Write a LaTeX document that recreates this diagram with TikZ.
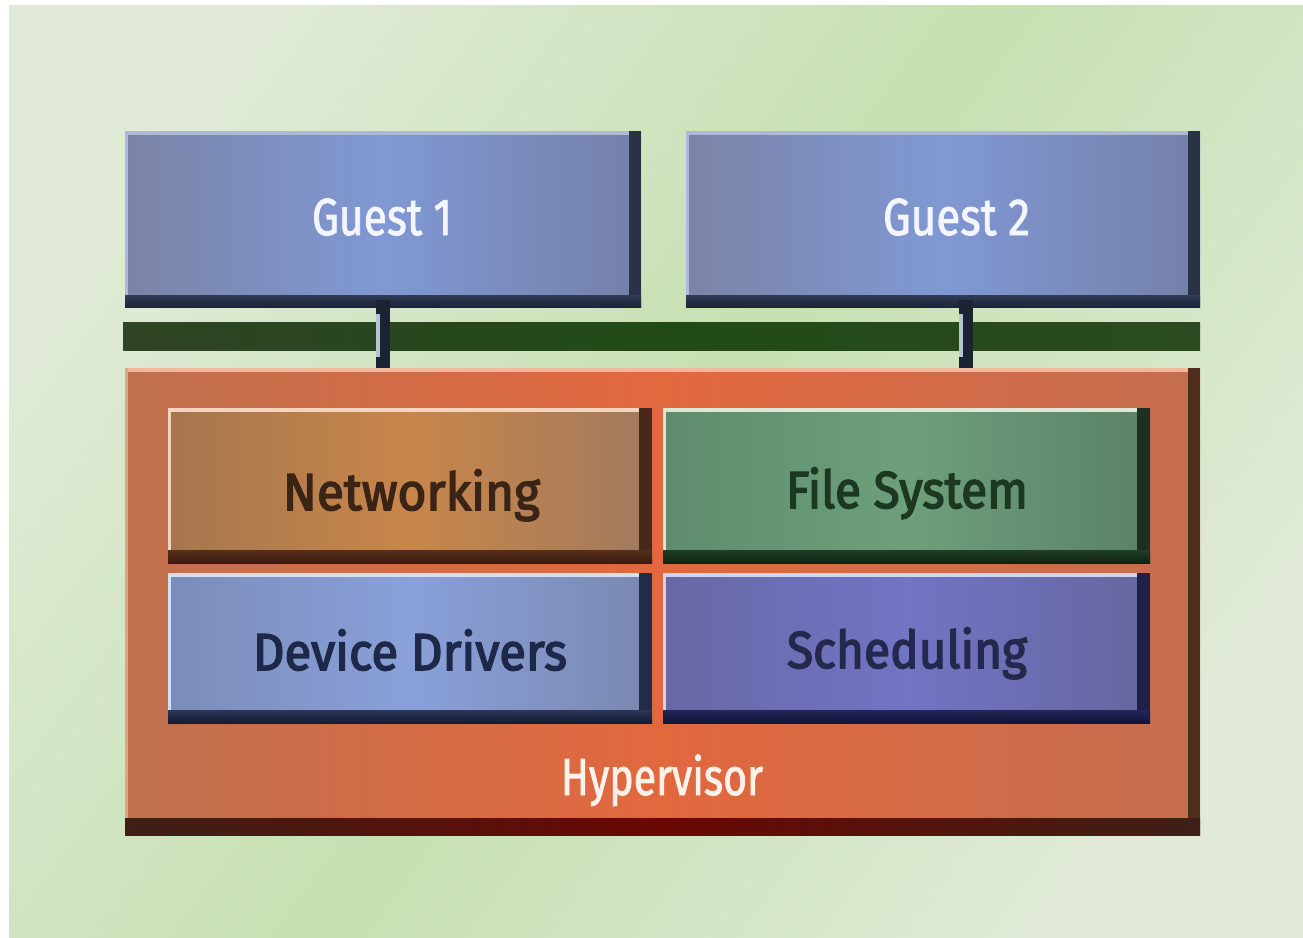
\documentclass[tikz,border=0pt]{standalone}
\usepackage{fontspec}
\setmainfont{Fira Sans}
\newfontfamily\medfont[FakeBold=3]{Fira Sans}
\newfontfamily\lightmed[FakeBold=1.8]{Fira Sans}
\usepackage{graphicx}
\definecolor{bgL}{HTML}{E0EAD6}
\definecolor{bgG}{HTML}{C6E0B2}
\definecolor{guL}{HTML}{7A84A6}
\definecolor{guM}{HTML}{8098D4}
\definecolor{guR}{HTML}{7480A8}
\definecolor{guD}{HTML}{1C2436}
\definecolor{guH}{HTML}{AEB8DC}
\definecolor{nwL}{HTML}{A5764F}
\definecolor{nwM}{HTML}{C8864A}
\definecolor{nwR}{HTML}{A07A5E}
\definecolor{nwD}{HTML}{3A1A10}
\definecolor{nwH}{HTML}{F4D4BC}
\definecolor{fsL}{HTML}{5E8C6C}
\definecolor{fsM}{HTML}{6DA07A}
\definecolor{fsR}{HTML}{5C8068}
\definecolor{fsD}{HTML}{0E2412}
\definecolor{fsH}{HTML}{DCE8D4}
\definecolor{ddL}{HTML}{7A8CB8}
\definecolor{ddM}{HTML}{8AA0DA}
\definecolor{ddR}{HTML}{7A88B0}
\definecolor{ddD}{HTML}{141C34}
\definecolor{ddH}{HTML}{D6DEF2}
\definecolor{scL}{HTML}{6868A4}
\definecolor{scM}{HTML}{7274C4}
\definecolor{scR}{HTML}{66669E}
\definecolor{scD}{HTML}{10143A}
\definecolor{scH}{HTML}{D0D4F0}
\definecolor{hyL}{HTML}{C0704F}
\definecolor{hyM}{HTML}{E2683E}
\definecolor{hyR}{HTML}{C46E50}
\definecolor{hyD}{HTML}{3C2016}
\definecolor{hyRed}{HTML}{6A0804}
\definecolor{hyH}{HTML}{F2B89C}
\definecolor{busL}{HTML}{2F4424}
\definecolor{busM}{HTML}{224A18}
\definecolor{busR}{HTML}{2B4A20}
\definecolor{connD}{HTML}{1B2333}
\definecolor{connL}{HTML}{B5C5D8}
\definecolor{txNw}{HTML}{3A2416}
\definecolor{txFs}{HTML}{1C3820}
\definecolor{txDd}{HTML}{1E2848}
\definecolor{txSc}{HTML}{24284C}
\definecolor{txW}{HTML}{F4F6FF}
\definecolor{txHy}{HTML}{FFF2EA}
\begin{document}
\begin{tikzpicture}[x=1pt,y=-1pt,
  bevel/.style n args={6}{draw=none, inner sep=0pt, outer sep=0pt,
    left color=#1, right color=#3, middle color=#2,
    path picture={
      \fill[#5] (path picture bounding box.north west) rectangle ([yshift=-4pt]path picture bounding box.north east);
      \fill[#5] (path picture bounding box.north west) rectangle ([xshift=3pt]path picture bounding box.south west);
      \fill[#4!85!#3] ([xshift=-#6]path picture bounding box.north east) rectangle (path picture bounding box.south east);
      \shade[top color=#4!80!#2, bottom color=#4] ([yshift=#6]path picture bounding box.south west) rectangle (path picture bounding box.south east);
    }},
  hyperbox/.style={draw=none, inner sep=0pt, outer sep=0pt,
    left color=hyL, right color=hyR, middle color=hyM,
    path picture={
      \fill[hyH] (path picture bounding box.north west) rectangle ([yshift=-4pt]path picture bounding box.north east);
      \fill[hyH!70!hyL] (path picture bounding box.north west) rectangle ([xshift=3pt]path picture bounding box.south west);
      \fill[hyD!85!hyL] ([xshift=-12pt]path picture bounding box.north east) rectangle (path picture bounding box.south east);
      \shade[left color=hyD, right color=hyD, middle color=hyRed] ([yshift=17pt]path picture bounding box.south west) rectangle (path picture bounding box.south east);
    }},
  busbar/.style={draw=none, inner sep=0pt, outer sep=0pt, left color=busL, right color=busR, middle color=busM},
  conn/.style={draw=connD, line width=14pt},
  connstripe/.style={draw=connL, line width=4pt},
  lbl/.style={anchor=base, inner sep=0pt, outer sep=0pt, font=\lightmed\fontsize{52}{60}\selectfont},
  lblb/.style={lbl, font=\medfont\fontsize{52}{60}\selectfont},
]
\useasboundingbox (0,0) rectangle (1303,937);
\fill[white] (0,0) rectangle (1303,937);
\fill[top color=bgL, bottom color=bgL, middle color=bgG, shading angle=54] (9,5) rectangle (1303,937);

% guests
\node[bevel={guL}{guM}{guR}{guD}{guH}{12pt}, minimum width=516pt, minimum height=176pt] (g1) at (383,219) {};
\node[bevel={guL}{guM}{guR}{guD}{guH}{12pt}, minimum width=514pt, minimum height=176pt] (g2) at (943,219) {};

% bus
\node[busbar, minimum width=1077pt, minimum height=28pt] (bus) at (661.5,336) {};

% hypervisor
\node[hyperbox, minimum width=1075pt, minimum height=467pt] (hyp) at (662.5,601.5) {};

% inner modules
\node[bevel={nwL}{nwM}{nwR}{nwD}{nwH}{13pt}, minimum width=484pt, minimum height=155pt] (nw) at (410,485.5) {};
\node[bevel={fsL}{fsM}{fsR}{fsD}{fsH}{13pt}, minimum width=487pt, minimum height=155pt] (fs) at (906.5,485.5) {};
\node[bevel={ddL}{ddM}{ddR}{ddD}{ddH}{13pt}, minimum width=484pt, minimum height=150pt] (dd) at (410,648) {};
\node[bevel={scL}{scM}{scR}{scD}{scH}{13pt}, minimum width=487pt, minimum height=150pt] (sc) at (906.5,648) {};

% connectors
\coordinate (c1) at (382.5,300);
\coordinate (c2) at (965.5,300);
\draw[conn] (c1) -- (c1 |- hyp.north);
\draw[conn] (c2) -- (c2 |- hyp.north);
\coordinate (c1a) at (377.5,314);
\coordinate (c1b) at (377.5,357);
\coordinate (c2a) at (960.5,314);
\coordinate (c2b) at (960.5,357);
\draw[connstripe] (c1a) -- (c1b);
\draw[connstripe] (c2a) -- (c2b);

% labels
\node[lbl, text=txW] (tg1) at (382,235) {\resizebox{140pt}{\height}{Guest 1}};
\node[lbl, text=txW] (tg2) at (956.5,235) {\resizebox{147pt}{\height}{Guest 2}};
\node[lblb, text=txNw] (tnw) at (411.5,510) {\resizebox{257pt}{\height}{Networking}};
\node[lblb, text=txFs] (tfs) at (907,508) {\resizebox{242pt}{\height}{File System}};
\node[lblb, text=txDd] (tdd) at (410,670) {\resizebox{314pt}{\height}{Device Drivers}};
\node[lblb, text=txSc] (tsc) at (907,668) {\resizebox{240pt}{\height}{Scheduling}};
\node[lbl, text=txHy] (thy) at (662,795) {\resizebox{202pt}{\height}{Hypervisor}};
\end{tikzpicture}
\end{document}
